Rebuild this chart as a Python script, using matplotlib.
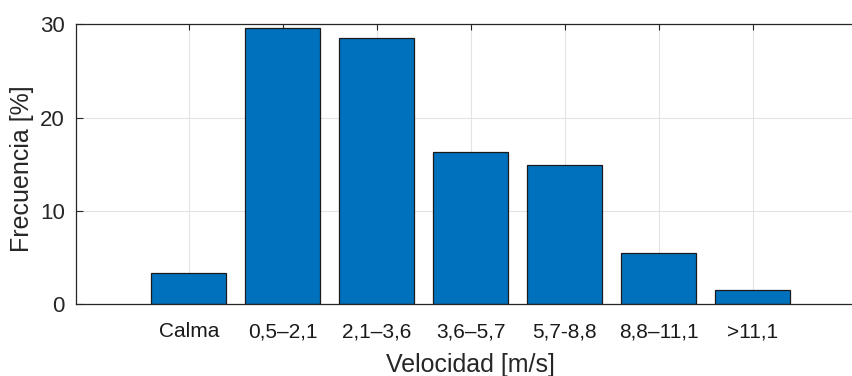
import matplotlib
matplotlib.use("Agg")
import matplotlib.pyplot as plt

# wind speed classes and their frequencies
categorias = ["Calma", "0,5–2,1", "2,1–3,6", "3,6–5,7", "5,7-8,8", "8,8–11,1", ">11,1"]
frecuencia = [3.3, 29.6, 28.5, 16.3, 14.9, 5.5, 1.5]

plt.rcParams['font.family'] = ['Liberation Sans', 'DejaVu Sans']

fig = plt.figure(figsize=(8.53, 3.76), dpi=100)
ax = fig.add_axes([0.0891, 0.1915, 0.9257, 0.7434])

pos = list(range(1, len(categorias) + 1))
ax.bar(pos, frecuencia, width=0.8, color="#0072BD", edgecolor="#1a1a1a",
       linewidth=0.9, zorder=3)

ax.set_xlim(-0.2, 8.2)
ax.set_ylim(0, 30)
ax.set_xticks(pos)
ax.set_xticklabels(categorias)
ax.set_yticks([0, 10, 20, 30])

ax.grid(True, color="#e3e3e3", linewidth=0.8, zorder=0)
ax.set_axisbelow(True)

for s in ax.spines.values():
    s.set_color("#262626")
    s.set_linewidth(0.9)
    s.set_zorder(4)

ax.tick_params(axis="x", direction="in", length=4, width=0.8, color="#262626",
               top=True, labelsize=15, labelcolor="#1a1a1a", pad=13)
ax.tick_params(axis="y", direction="in", length=5, width=0.8, color="#262626",
               right=True, labelsize=16, labelcolor="#262626", pad=8)

ax.set_xlabel("Velocidad [m/s]", fontsize=18, color="#262626", labelpad=8.5)
ax.set_ylabel("Frecuencia [%]", fontsize=18, color="#262626", labelpad=4)
ax.yaxis.label.set_y(0.485)

plt.savefig("out.png", dpi=100)
